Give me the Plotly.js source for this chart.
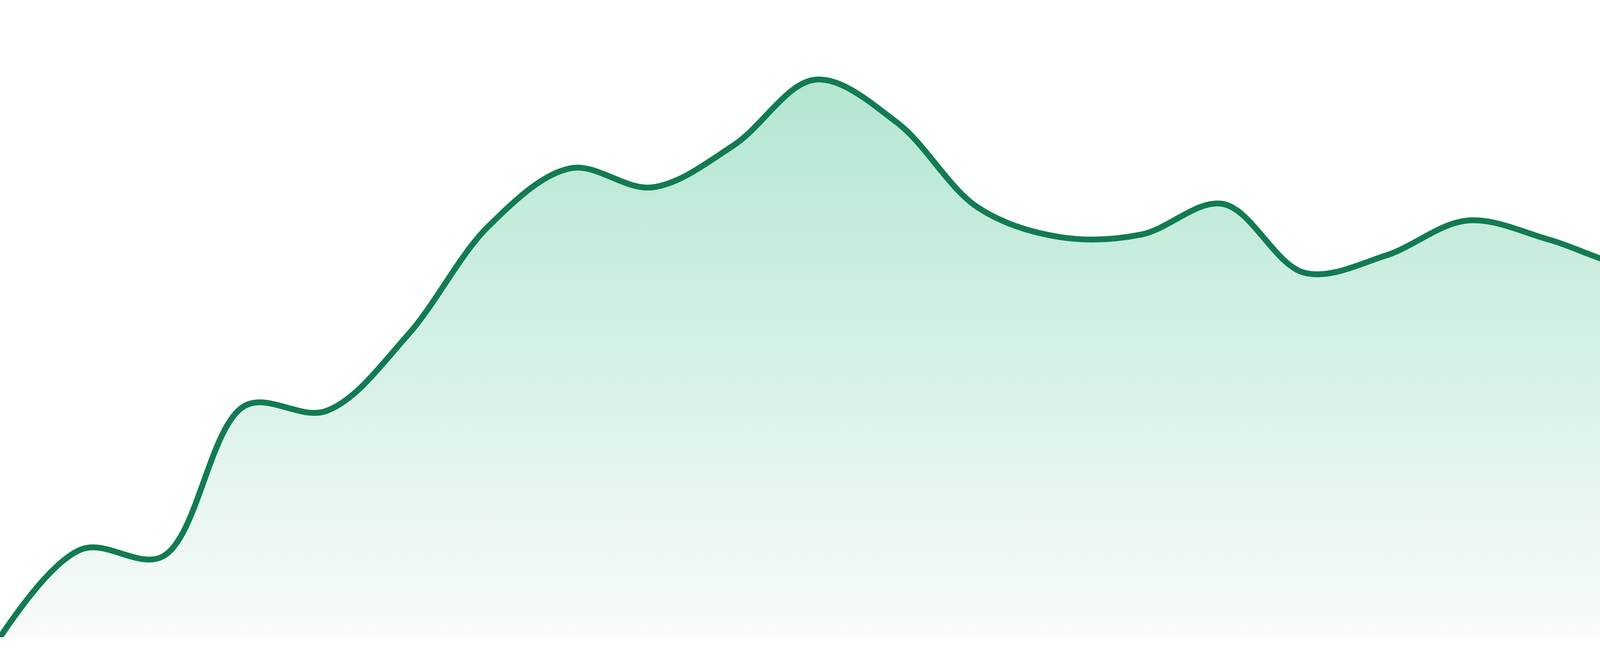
<!DOCTYPE html>
<html>
<head>
<meta charset="utf-8">
<script src="https://cdn.plot.ly/plotly-3.0.1.min.js"></script>
<style>
  html, body { margin: 0; padding: 0; background: #ffffff; }
  #chart { width: 4800px; height: 1680px; }
</style>
</head>
<body>
<div id="chart"></div>
<script>
// one value per period
var periods = [1, 2, 3, 4, 5, 6, 7, 8, 9, 10, 11, 12,
               13, 14, 15, 16, 17, 18, 19, 20, 21, 22, 23, 24];
var values = [0.0, 13.8, 12.7, 36.3, 35.5, 47.4, 64.6, 73.6, 70.6, 77.2, 87.5, 80.8,
              67.4, 62.8, 63.2, 68.0, 57.2, 59.9, 65.4, 62.4, 58.2, 58.8, 62.8, 57.7];

var lineColor = '#127b52';
var fillTop = '#b3e6d0';
var fillBottom = '#f8fbfa';

var trace = {
  x: periods,
  y: values,
  type: 'scatter',
  mode: 'lines',
  line: {color: lineColor, width: 15, shape: 'spline', smoothing: 1},
  fill: 'tozeroy',
  fillgradient: {
    type: 'vertical',
    colorscale: [[0, fillBottom], [1, fillTop]]
  },
  hoverinfo: 'skip'
};

var layout = {
  width: 4800,
  height: 1680,
  margin: {l: 0, r: 0, t: 0, b: 48, pad: 0},
  paper_bgcolor: '#ffffff',
  plot_bgcolor: '#ffffff',
  showlegend: false,
  xaxis: {range: [1, 24], visible: false, fixedrange: true},
  yaxis: {range: [0, 100], visible: false, fixedrange: true}
};

Plotly.newPlot('chart', [trace], layout, {staticPlot: true, displayModeBar: false});
</script>
</body>
</html>
